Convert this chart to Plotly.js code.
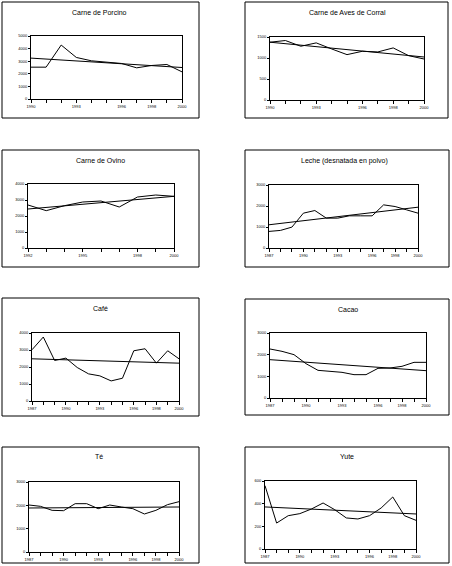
<!DOCTYPE html>
<html>
<head>
<meta charset="utf-8">
<script src="https://cdn.plot.ly/plotly-3.0.1.min.js"></script>
<style>html,body{margin:0;padding:0;background:#fff;}#chart{width:452px;height:566px;}</style>
</head>
<body>
<div id="chart"></div>
<script>
// ---- data ----
var titles = ["Carne de Porcino", "Carne de Aves de Corral", "Carne de Ovino", "Leche (desnatada en polvo)",
              "Café", "Cacao", "Té", "Yute"];

var years11 = [1990, 1991, 1992, 1993, 1994, 1995, 1996, 1997, 1998, 1999, 2000];
var years9  = [1992, 1993, 1994, 1995, 1996, 1997, 1998, 1999, 2000];
var years14 = [1987, 1988, 1989, 1990, 1991, 1992, 1993, 1994, 1995, 1996, 1997, 1998, 1999, 2000];

var labels11 = ["1990", "1993", "1996", "1998", "2000"];
var labels9  = ["1992", "1995", "1998", "2000"];
var labels14 = ["1987", "1990", "1993", "1996", "1998", "2000"];

var porcinoReal  = [2527, 2527, 4282, 3298, 3032, 2952, 2819, 2473, 2660, 2739, 2154];
var porcinoTrend = [3245, 2500];

var avesReal  = [1376, 1416, 1280, 1360, 1216, 1080, 1160, 1144, 1240, 1056, 976];
var avesTrend = [1376, 1024];

var ovinoReal  = [2687, 2333, 2646, 2875, 2937, 2562, 3187, 3312, 3229];
var ovinoTrend = [2437, 3229];

var lecheReal  = [790, 837, 995, 1659, 1785, 1422, 1422, 1532, 1532, 1532, 2054, 1975, 1817, 1659];
var lecheTrend = [1106, 1943];

var cafeReal  = [3014, 3763, 2384, 2522, 1970, 1596, 1478, 1182, 1340, 2955, 3073, 2226, 2955, 2482];
var cafeTrend = [2482, 2226];

var cacaoReal  = [2262, 2154, 2000, 1585, 1277, 1231, 1185, 1077, 1077, 1369, 1385, 1462, 1646, 1646];
var cacaoTrend = [1769, 1262];

var teReal  = [2014, 1957, 1786, 1771, 2071, 2071, 1857, 2014, 1929, 1857, 1629, 1786, 2029, 2157];
var teTrend = [1886, 1929];

var yuteReal  = [559, 229, 294, 312, 353, 406, 347, 274, 265, 294, 362, 459, 294, 253];
var yuteTrend = [371, 309];

var yTicks1500 = [0, 500, 1000, 1500];
var yTicks3000 = [0, 1000, 2000, 3000];
var yTicks4000 = [0, 1000, 2000, 3000, 4000];
var yTicks5000 = [0, 1000, 2000, 3000, 4000, 5000];
var yTicks600  = [0, 200, 400, 600];

// ---- layout geometry (pixels) ----
var W = 452, H = 566;
var panels = [
  {x: years11, lab: labels11, real: porcinoReal, trend: porcinoTrend, yt: yTicks5000,
   plot: [31, 36, 182, 99], frame: [2, 2, 199, 118], title: [99, 12.5]},
  {x: years11, lab: labels11, real: avesReal, trend: avesTrend, yt: yTicks1500,
   plot: [270, 37, 424, 100], frame: [245, 2, 448, 118], title: [347, 12.5]},
  {x: years9, lab: labels9, real: ovinoReal, trend: ovinoTrend, yt: yTicks4000,
   plot: [28, 184, 174, 248], frame: [2, 150, 199, 267], title: [100, 160]},
  {x: years14, lab: labels14, real: lecheReal, trend: lecheTrend, yt: yTicks3000,
   plot: [269, 185, 418, 248], frame: [245, 150, 449, 267], title: [344, 160.5]},
  {x: years14, lab: labels14, real: cafeReal, trend: cafeTrend, yt: yTicks4000,
   plot: [32, 333, 179, 401], frame: [2, 298, 199, 416], title: [100, 308]},
  {x: years14, lab: labels14, real: cacaoReal, trend: cacaoTrend, yt: yTicks3000,
   plot: [270, 333, 426, 398], frame: [245, 299, 449, 415], title: [348, 309]},
  {x: years14, lab: labels14, real: teReal, trend: teTrend, yt: yTicks3000,
   plot: [29, 482, 179, 552], frame: [2, 447, 199, 563], title: [99, 456.5]},
  {x: years14, lab: labels14, real: yuteReal, trend: yuteTrend, yt: yTicks600,
   plot: [265, 481, 416, 549], frame: [245, 447, 449, 563], title: [347, 456.5]}
];

var traces = [];
var layout = {
  width: W, height: H,
  margin: {l: 0, r: 0, t: 0, b: 0},
  paper_bgcolor: "#ffffff", plot_bgcolor: "#ffffff",
  showlegend: false,
  font: {family: "Liberation Sans, Arial, sans-serif", color: "#000"},
  shapes: [], annotations: []
};

panels.forEach(function (p, i) {
  var n = i + 1;
  var xa = "x" + (n === 1 ? "" : n), ya = "y" + (n === 1 ? "" : n);
  var first = p.x[0], last = p.x[p.x.length - 1];
  traces.push({x: p.x, y: p.real, xaxis: xa, yaxis: ya, type: "scatter", mode: "lines",
               line: {color: "#000", width: 1}, cliponaxis: false, hoverinfo: "skip"});
  traces.push({x: [first, last], y: p.trend, xaxis: xa, yaxis: ya, type: "scatter", mode: "lines",
               line: {color: "#000", width: 1}, cliponaxis: false, hoverinfo: "skip"});
  var ticktext = p.x.map(function (v) { var s = String(v); return p.lab.indexOf(s) >= 0 ? s : ""; });
  layout["xaxis" + (n === 1 ? "" : n)] = {
    domain: [p.plot[0] / W, p.plot[2] / W], anchor: ya,
    range: [first, last], tickmode: "array", tickvals: p.x, ticktext: ticktext,
    ticks: "outside", ticklen: 3, tickwidth: 1, tickcolor: "#000",
    showline: true, linecolor: "#000", linewidth: 1, mirror: true,
    showgrid: false, zeroline: false, fixedrange: true,
    tickfont: {size: 4, color: "#000", family: "Liberation Sans, Arial, sans-serif"}
  };
  layout["yaxis" + (n === 1 ? "" : n)] = {
    domain: [1 - p.plot[3] / H, 1 - p.plot[1] / H], anchor: xa,
    range: [0, p.yt[p.yt.length - 1]], tickmode: "array", tickvals: p.yt,
    ticks: "outside", ticklen: 2, tickwidth: 1, tickcolor: "#000",
    showline: true, linecolor: "#000", linewidth: 1, mirror: true,
    showgrid: false, zeroline: false, fixedrange: true,
    tickfont: {size: 4, color: "#000", family: "Liberation Sans, Arial, sans-serif"}
  };
  layout.shapes.push({type: "rect", xref: "paper", yref: "paper",
    x0: p.frame[0] / W, x1: p.frame[2] / W, y0: 1 - p.frame[3] / H, y1: 1 - p.frame[1] / H,
    line: {color: "#000", width: 1}, fillcolor: "rgba(0,0,0,0)", layer: "below"});
  layout.annotations.push({text: titles[i], xref: "paper", yref: "paper",
    x: p.title[0] / W, y: 1 - p.title[1] / H, xanchor: "center", yanchor: "middle",
    showarrow: false, font: {size: 7, color: "#000", family: "Liberation Sans, Arial, sans-serif"}});
});

Plotly.newPlot("chart", traces, layout, {displayModeBar: false, staticPlot: true});
</script>
</body>
</html>
